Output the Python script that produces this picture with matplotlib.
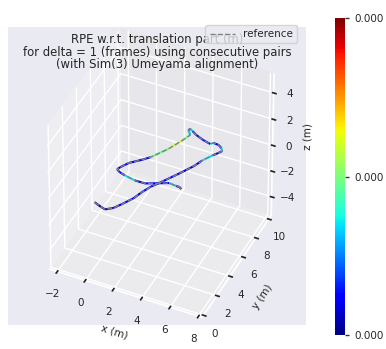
import numpy as np
import matplotlib
matplotlib.use("Agg")
import matplotlib.pyplot as plt
import seaborn as sns
from matplotlib import colors
from matplotlib.ticker import FormatStrFormatter
from mpl_toolkits.mplot3d.art3d import Line3DCollection

sns.set_theme(style="darkgrid")
plt.rcParams["font.family"] = ["DejaVu Sans"]

# trajectory (m)
xs = [0.26, 0.52, 0.82, 1.16, 1.57, 1.93, 2.33, 2.58, 2.87, 3.17, 3.88, 4.52, 4.75, 5.16,
      5.38, 5.54, 5.36, 5.07, 4.69, 4.55, 3.98, 3.37, 2.98, 2.78, 2.70, 3.01, 2.78, 2.32,
      1.61, 1.27, 0.61, 0.28, 0.18, 0.47, 0.89, 1.68, 2.39, 3.17, 3.77, 4.30, 4.52, 4.71]
ys = [0.76, 0.64, 0.52, 0.42, 0.75, 1.35, 2.11, 2.90, 3.59, 4.07, 5.31, 6.51, 7.18, 7.93,
      8.26, 8.56, 8.81, 9.00, 9.04, 8.86, 9.02, 9.28, 9.53, 9.66, 9.51, 9.11, 8.44, 7.32,
      6.09, 5.70, 5.04, 4.44, 4.17, 3.98, 3.85, 3.68, 3.69, 4.07, 4.36, 4.29, 4.29, 4.16]
zs = [0.0, 0.0, 0.0, 0.0, 0.0, 0.0, 0.0, 0.0, 0.0, 0.0, 0.0, 0.0, 0.0, 0.0,
      0.0, 0.0, 0.0, 0.0, 0.0, 0.0, 0.0, 0.0, 0.0, 0.0, 0.0, 0.0, 0.0, 0.0,
      0.0, 0.0, 0.0, 0.0, 0.0, 0.0, 0.0, 0.0, 0.0, 0.0, 0.0, 0.0, 0.0, 0.0]
# RPE per pose (m)
rpe = [0.00000, 0.00001, 0.00001, 0.00002, 0.00003, 0.00004, 0.00003, 0.00005, 0.00003, 0.00005,
       0.00003, 0.00005, 0.00014, 0.00003, 0.00005, 0.00013, 0.00003, 0.00005, 0.00015, 0.00004,
       0.00005, 0.00004, 0.00014, 0.00005, 0.00013, 0.00020, 0.00024, 0.00019, 0.00004, 0.00003,
       0.00005, 0.00003, 0.00002, 0.00005, 0.00014, 0.00003, 0.00005, 0.00003, 0.00013, 0.00004,
       0.00003, 0.00004]
vmin_val = 0.0
vmax_val = 0.00040

title = ("RPE w.r.t. translation part (m)\n"
         "for delta = 1 (frames) using consecutive pairs\n"
         "(with Sim(3) Umeyama alignment)")

fig = plt.figure(figsize=(3.86, 3.49), dpi=100)
ax = fig.add_axes([0.021, 0.040, 0.772, 0.911], projection="3d")
ax.view_init(elev=41, azim=-65)
ax.set_proj_type("persp", focal_length=3)
ax.set_box_aspect((4, 4, 4.45), zoom=0.99)

ax.plot(xs, ys, zs, "--", color="gray", lw=1, label="reference")
pts = np.array([xs, ys, zs]).T
segs = np.stack([pts[:-1], pts[1:]], axis=1)
norm = colors.Normalize(vmin=vmin_val, vmax=vmax_val)
lc = Line3DCollection(segs, cmap="jet", norm=norm, linewidths=1.5)
lc.set_array(np.array(rpe[:-1]))
ax.add_collection3d(lc)

ax.set_xlim(-2.55, 8.25)
ax.set_ylim(-0.2, 10.4)
ax.set_zlim(-5.45, 5.45)
ax.set_xticks([-2, 0, 2, 4, 6, 8])
ax.set_yticks([0, 2, 4, 6, 8, 10])
ax.set_zticks([-4, -2, 0, 2, 4])
ax.tick_params(labelsize=7.5, pad=0)
ax.set_xlabel("x (m)", fontsize=7.5, labelpad=-3)
ax.set_ylabel("y (m)", fontsize=7.5, labelpad=-2)
ax.set_zlabel("z (m)", fontsize=7.5, labelpad=-3)
ax.set_title(title, fontsize=8.4, y=0.937, pad=0, linespacing=0.95)
ax.legend(loc="upper right", fontsize=7.5, bbox_to_anchor=(297 / 386, 1 - 25 / 349),
          bbox_transform=fig.transFigure, borderaxespad=0, handlelength=2.4)

cax = fig.add_axes([0.868, 0.040, 0.026, 0.908])
sm = plt.cm.ScalarMappable(norm=norm, cmap="jet")
cb = fig.colorbar(sm, cax=cax, ticks=[vmin_val, (vmin_val + vmax_val) / 2, vmax_val])
cb.ax.yaxis.set_major_formatter(FormatStrFormatter("%.3f"))
cb.ax.tick_params(labelsize=7.5, length=3, width=1, color="0.2")
cb.outline.set_visible(False)

fig.savefig("out.png", dpi=100)
